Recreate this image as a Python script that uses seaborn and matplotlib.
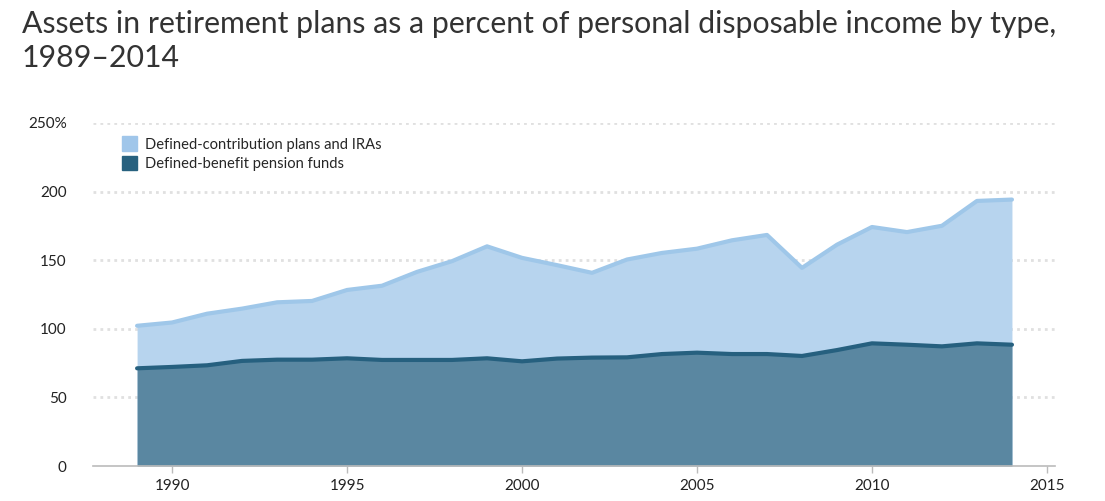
import numpy as np
import pandas as pd
import seaborn as sns
import matplotlib
matplotlib.use('Agg')
import matplotlib.pyplot as plt
from matplotlib.patches import Patch

# data (percent of disposable income)
years = list(range(1989, 2015))
db_funds = [71.2, 72.2, 73.4, 76.6, 77.5, 77.5, 78.5, 77.3, 77.3, 77.3, 78.5, 76.3, 78.3,
            79.0, 79.2, 81.6, 82.6, 81.6, 81.6, 80.2, 84.5, 89.4, 88.4, 87.2, 89.4, 88.4]
dc_plans = [31.0, 32.4, 37.6, 38.1, 41.8, 42.8, 49.8, 54.1, 64.2, 72.0, 81.6, 75.4, 68.1,
            61.8, 71.3, 73.7, 75.8, 82.9, 86.8, 64.2, 76.8, 84.8, 82.1, 87.9, 103.8, 105.8]
labels = ['Defined-contribution plans and IRAs', 'Defined-benefit pension funds']

df = pd.DataFrame({'year': years, 'db': db_funds, 'dc': dc_plans})
df['total'] = df['db'] + df['dc']

sns.set_style('white')
plt.rcParams['font.family'] = ['Lato', 'DejaVu Sans']

fig = plt.figure(figsize=(11.05, 5.01), dpi=100)
ax = fig.add_axes([93 / 1105, 1 - 466 / 501, 962 / 1105, 343 / 501])

light_fill, light_line = '#b7d4ee', '#9fc7e9'
dark_fill, dark_line = '#5a87a1', '#26607f'

ax.fill_between(df.year, 0, df.total, color=light_fill, lw=0, zorder=1)
ax.fill_between(df.year, 0, df.db, color=dark_fill, lw=0, zorder=2)
sns.lineplot(x='year', y='total', data=df, ax=ax, color=light_line, lw=3, zorder=3)
sns.lineplot(x='year', y='db', data=df, ax=ax, color=dark_line, lw=3, zorder=4)

ax.set_xlim(1987.74, 2015.23)
ax.set_ylim(0, 250)
ax.set_xticks([1990, 1995, 2000, 2005, 2010, 2015])
ax.set_yticks([0, 50, 100, 150, 200, 250])
ax.set_yticklabels(['0', '50', '100', '150', '200', '250%'])
ax.set_xlabel('')
ax.set_ylabel('')
for y in [50, 100, 150, 200, 250]:
    ax.axhline(y, color='#e0e0e0', lw=2, ls=(0, (1, 1.5)), zorder=0.5)

for s in ['top', 'right', 'left']:
    ax.spines[s].set_visible(False)
ax.spines['bottom'].set_color('#bbbbbb')
ax.spines['bottom'].set_linewidth(1.2)
ax.tick_params(axis='x', length=5, width=1, color='#bbbbbb', labelsize=11,
               labelcolor='#222222', pad=4, bottom=True)
ax.tick_params(axis='y', length=0, labelsize=11, labelcolor='#222222', pad=19)

handles = [Patch(facecolor='#a0c6ea', edgecolor='#a0c6ea'),
           Patch(facecolor='#27617f', edgecolor='#27617f')]
ax.legend(handles, labels, loc='upper left', bbox_to_anchor=(0.024, 0.978),
          frameon=False, fontsize=10.6, handlelength=1.0, handleheight=1.1,
          handletextpad=0.55, labelspacing=0.3, borderaxespad=0)

fig.text(22 / 1105, 1 - 10 / 501,
         'Assets in retirement plans as a percent of personal disposable income by type,\n1989\u20132014',
         fontsize=21.8, color='#333333', va='top', ha='left', linespacing=1.25)

fig.savefig('out.png', dpi=100)
